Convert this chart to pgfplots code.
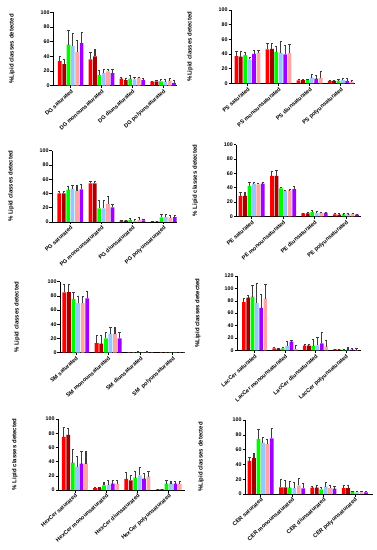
\documentclass[border=0pt]{standalone}
\usepackage{pgfplots}
\pgfplotsset{compat=1.18}
\usepackage{fontspec}
\setmainfont{Liberation Sans}
\definecolor{cR}{RGB}{255,0,0}
\definecolor{cD}{RGB}{165,0,0}
\definecolor{cG}{RGB}{0,250,0}
\definecolor{cL}{RGB}{150,200,255}
\definecolor{cP}{RGB}{255,165,165}
\definecolor{cU}{RGB}{160,0,255}
\definecolor{cE}{RGB}{60,60,60}
\pgfplotsset{
  pstyle/.style={scale only axis, anchor=south west, ybar, bar width=0.12, ymin=0,
    axis lines=left, axis line style={-, line width=0.6pt, black},
    xtick={0,1,2,3},
    x tick label style={rotate=42, anchor=north east, font=\bfseries\fontsize{5.6}{6}\selectfont, inner sep=0.5pt},
    y tick label style={font=\bfseries\fontsize{5.3}{6}\selectfont, inner sep=0.8pt},
    /pgf/number format/assume math mode=true,
    tick style={black, line width=0.5pt}, major tick length=2.5pt, tick align=outside,
    every axis y label/.style={rotate=90, anchor=center, font=\bfseries\fontsize{6}{7}\selectfont},
  },
  eb/.style={draw=none, error bars/y dir=plus, error bars/y explicit,
    error bars/error bar style={line width=1.1pt, cE},
    error bars/error mark options={rotate=90, mark size=1.1pt, line width=0.6pt, cE}},
  b1/.style={bar shift=-0.355, eb},
  b2/.style={bar shift=-0.213, eb},
  b3/.style={bar shift=-0.071, eb},
  b4/.style={bar shift=0.071, eb},
  b5/.style={bar shift=0.213, eb},
  b6/.style={bar shift=0.355, eb},
}
\begin{document}
\begin{tikzpicture}
\useasboundingbox (0,0) rectangle (377pt,550pt);
% ---------- DG ----------
\begin{axis}[pstyle, at={(53pt,464.3pt)}, width=124pt, height=73.4pt,
  xmin=-0.575, xmax=3.45, ymax=100, ytick={0,20,...,100},
  xticklabels={DG saturated, DG monounsaturated, DG diunsaturated, DG polyunsaturated},
  ylabel={\%Lipid classes detected}, ylabel style={at={(axis description cs:-0.331,0.5)}}]
\addplot[b1, fill=cR] coordinates {(0,33.6) +- (0,5.9) (1,36) +- (0,9) (2,9.5) +- (0,1.5) (3,5.5) +- (0,0.9)};
\addplot[b2, fill=cD] coordinates {(0,29.5) +- (0,6.5) (1,40) +- (0,10) (2,7.7) +- (0,2.8) (3,6) +- (0,1.7)};
\addplot[b3, fill=cG] coordinates {(0,56) +- (0,20) (1,14.5) +- (0,6) (2,9.5) +- (0,4.1) (3,6) +- (0,2.6)};
\addplot[b4, fill=cL] coordinates {(0,54) +- (0,18) (1,17) +- (0,5) (2,8.6) +- (0,3.4) (3,5.5) +- (0,3.1)};
\addplot[b5, fill=cP] coordinates {(0,46) +- (0,16) (1,19.5) +- (0,2.5) (2,10.5) +- (0,1.5) (3,6.8) +- (0,2.7)};
\addplot[b6, fill=cU] coordinates {(0,58) +- (0,15) (1,17) +- (0,5) (2,7.7) +- (0,1.8) (3,4) +- (0,2.8)};
\end{axis}
% ---------- PS ----------
\begin{axis}[pstyle, at={(231pt,466.7pt)}, width=123.7pt, height=73.3pt,
  xmin=-0.53, xmax=3.45, ymax=100, ytick={0,20,...,100},
  xticklabels={PS saturated, PS monounsaturated, PS diunsaturated, PS polyunsaturated},
  ylabel={\%Lipid classes detected}, ylabel style={at={(axis description cs:-0.331,0.5)}}]
\addplot[b1, fill=cR] coordinates {(0,37) +- (0,7) (1,46.4) +- (0,8.1) (2,4) +- (0,1.5) (3,3.2) +- (0,1.3)};
\addplot[b2, fill=cD] coordinates {(0,36.4) +- (0,6.6) (1,46.8) +- (0,7.7) (2,4.5) +- (0,1) (3,3.2) +- (0,1.3)};
\addplot[b3, fill=cG] coordinates {(0,38.6) +- (0,3.4) (1,43) +- (0,8) (2,4.5) +- (0,1) (3,3.6) +- (0,1.4)};
\addplot[b4, fill=cL] coordinates {(0,32.7) +- (0,2.3) (1,42) +- (0,15.7) (2,7.7) +- (0,5) (3,4.5) +- (0,2.8)};
\addplot[b5, fill=cU] coordinates {(0,40) +- (0,5.5) (1,39.5) +- (0,11.9) (2,6.4) +- (0,4.6) (3,3.2) +- (0,3.6)};
\addplot[b6, fill=cP] coordinates {(0,42) +- (0,3) (1,41.4) +- (0,12.2) (2,7.3) +- (0,9.5) (3,2.3) +- (0,1.7)};
\end{axis}
% ---------- PG ----------
\begin{axis}[pstyle, at={(52pt,328pt)}, width=125pt, height=71.3pt,
  xmin=-0.59, xmax=3.43, ymax=100, ytick={0,20,...,100},
  xticklabels={PG saturated, PG monounsaturated, PG diunsaturated, PG polyunsaturated},
  ylabel={\% Lipid classes detected}, ylabel style={at={(axis description cs:-0.328,0.5)}}]
\addplot[b1, fill=cR] coordinates {(0,40) +- (0,2.5) (1,54) +- (0,3) (2,2) +- (0,0.3) (3,0.5) +- (0,0.2)};
\addplot[b2, fill=cD] coordinates {(0,40) +- (0,2.5) (1,54) +- (0,2.5) (2,2) +- (0,0.3) (3,0.5) +- (0,0.2)};
\addplot[b3, fill=cG] coordinates {(0,45) +- (0,5.5) (1,19) +- (0,12) (2,2.8) +- (0,1.9) (3,6.5) +- (0,4.5)};
\addplot[b4, fill=cL] coordinates {(0,46.7) +- (0,5.3) (1,19) +- (0,12) (2,1.4) +- (0,2.8) (3,7) +- (0,4)};
\addplot[b5, fill=cP] coordinates {(0,44) +- (0,7) (1,25) +- (0,10.5) (2,2.8) +- (0,3.2) (3,6) +- (0,4)};
\addplot[b6, fill=cU] coordinates {(0,45.8) +- (0,7.5) (1,20.5) +- (0,4.5) (2,2.3) +- (0,1.4) (3,7) +- (0,3)};
\end{axis}
% ---------- PE ----------
\begin{axis}[pstyle, at={(236.3pt,333.7pt)}, width=125pt, height=71.6pt,
  xmin=-0.49, xmax=3.49, ymax=100, ytick={0,20,...,100},
  xticklabels={PE saturated, PE monounsaturated, PE diunsaturated, PE polyunsaturated},
  ylabel={\% Lipid classes detected}, ylabel style={at={(axis description cs:-0.328,0.5)}}]
\addplot[b1, fill=cR] coordinates {(0,28.4) +- (0,4.6) (1,56.3) +- (0,7) (2,4.2) +- (0,0.5) (3,2.8) +- (0,1.4)};
\addplot[b2, fill=cD] coordinates {(0,28.4) +- (0,4.6) (1,56.3) +- (0,7.9) (2,4.2) +- (0,0.8) (3,2.3) +- (0,1.4)};
\addplot[b3, fill=cG] coordinates {(0,42.3) +- (0,4.7) (1,39) +- (0,1.5) (2,6) +- (0,2.8) (3,2.8) +- (0,0.9)};
\addplot[b4, fill=cL] coordinates {(0,45.6) +- (0,2.4) (1,35.3) +- (0,1.4) (2,4.7) +- (0,1.8) (3,3.3) +- (0,0.4)};
\addplot[b5, fill=cP] coordinates {(0,44.7) +- (0,1.8) (1,36.3) +- (0,0.9) (2,4.7) +- (0,1.3) (3,3.3) +- (0,0.9)};
\addplot[b6, fill=cU] coordinates {(0,45.6) +- (0,1.4) (1,38.1) +- (0,3.3) (2,4.7) +- (0,1.3) (3,2.3) +- (0,1)};
\end{axis}
% ---------- SM ----------
\begin{axis}[pstyle, at={(60pt,197.3pt)}, width=125pt, height=71pt,
  xmin=-0.49, xmax=3.38, ymax=100, ytick={0,20,...,100},
  xticklabels={SM saturated, SM monounsaturated, SM diunsaturated, SM\ \ polyunsaturated},
  ylabel={\% Lipid classes detected}, ylabel style={at={(axis description cs:-0.344,0.5)}}]
\addplot[b1, fill=cR] coordinates {(0,85) +- (0,11) (1,13.6) +- (0,11.4) (2,0.3) +- (0,0.3) (3,0.2) +- (0,0.2)};
\addplot[b2, fill=cD] coordinates {(0,85.4) +- (0,10.6) (1,12.7) +- (0,11.7) (2,0.2) +- (0,0.5) (3,0.2) +- (0,0.2)};
\addplot[b3, fill=cG] coordinates {(0,75.6) +- (0,9.4) (1,20) +- (0,8.6) (2,0.5) +- (0,0.8) (3,0.3) +- (0,0.8)};
\addplot[b4, fill=cL] coordinates {(0,70) +- (0,10) (1,26.8) +- (0,8.9) (2,0.3) +- (0,0.5) (3,0.3) +- (0,0.3)};
\addplot[b5, fill=cP] coordinates {(0,70) +- (0,9) (1,26.8) +- (0,8.9) (2,0.5) +- (0,0.8) (3,0.2) +- (0,0.2)};
\addplot[b6, fill=cU] coordinates {(0,76.5) +- (0,9.5) (1,20) +- (0,8.2) (2,0.2) +- (0,0.3) (3,0.2) +- (0,0.2)};
\end{axis}
% ---------- LacCer ----------
\begin{axis}[pstyle, at={(237pt,199.7pt)}, width=124pt, height=74.3pt,
  xmin=-0.58, xmax=3.5, ymax=120, ytick={0,20,...,120},
  xticklabels={LacCer saturated, LacCer monounsaturated, LacCer diunsaturated, LacCer polyunsaturated},
  ylabel={\%Lipid classes detected}, ylabel style={at={(axis description cs:-0.315,0.5)}}]
\addplot[b1, fill=cR] coordinates {(0,78) +- (0,6.5) (1,3.2) +- (0,2.2) (2,7.5) +- (0,1.6) (3,1.6) +- (0,0.6)};
\addplot[b2, fill=cD] coordinates {(0,85) +- (0,4.3) (1,2.2) +- (0,1) (2,7.5) +- (0,2.7) (3,1) +- (0,0.6)};
\addplot[b3, fill=cG] coordinates {(0,86.7) +- (0,18.8) (1,3.2) +- (0,2.2) (2,7) +- (0,11.3) (3,0.5) +- (0,0.5)};
\addplot[b4, fill=cL] coordinates {(0,76.4) +- (0,32.6) (1,7) +- (0,8) (2,8) +- (0,13.5) (3,1) +- (0,3.3)};
\addplot[b5, fill=cU] coordinates {(0,68.4) +- (0,22) (1,14) +- (0,2.7) (2,11.3) +- (0,17.7) (3,1) +- (0,1.7)};
\addplot[b6, fill=cP] coordinates {(0,83.4) +- (0,23.2) (1,2.2) +- (0,6.4) (2,6) +- (0,10.7) (3,0.5) +- (0,3.3)};
\end{axis}
% ---------- HexCer ----------
\begin{axis}[pstyle, at={(58pt,60pt)}, width=127pt, height=71pt,
  xmin=-0.54, xmax=3.52, ymax=100, ytick={0,20,...,100},
  xticklabels={HexCer saturated, HexCer monounsaturated, HexCer diunsaturated, HexCer polyunsaturated},
  ylabel={\% Lipid classes detected}, ylabel style={at={(axis description cs:-0.339,0.5)}}]
\addplot[b1, fill=cR] coordinates {(0,75) +- (0,13) (1,2.8) +- (0,1) (2,15.5) +- (0,9.9) (3,1) +- (0,0.4)};
\addplot[b2, fill=cD] coordinates {(0,77.5) +- (0,9.3) (1,2.8) +- (0,1) (2,13.6) +- (0,7.4) (3,1) +- (0,0.4)};
\addplot[b3, fill=cG] coordinates {(0,38.5) +- (0,19.2) (1,6.6) +- (0,4.7) (2,17.4) +- (0,8.4) (3,8.9) +- (0,4.1)};
\addplot[b4, fill=cL] coordinates {(0,32.9) +- (0,14.1) (1,7.5) +- (0,5.5) (2,20.7) +- (0,11.3) (3,8.9) +- (0,3.8)};
\addplot[b5, fill=cU] coordinates {(0,37) +- (0,17) (1,8.9) +- (0,4.7) (2,16) +- (0,7) (3,8.9) +- (0,3.3)};
\addplot[b6, fill=cP] coordinates {(0,37) +- (0,18) (1,8.5) +- (0,4.5) (2,18.8) +- (0,7) (3,8.5) +- (0,3.7)};
\end{axis}
% ---------- CER ----------
\begin{axis}[pstyle, at={(245pt,56pt)}, width=128pt, height=74pt,
  xmin=-0.5, xmax=3.58, ymax=100, ytick={0,20,...,100},
  xticklabels={CER saturated, CER monounsaturated, CER diunsaturated, CER polyunsaturated},
  ylabel={\%Lipid classes detected}, ylabel style={at={(axis description cs:-0.344,0.5)}}]
\addplot[b1, fill=cR] coordinates {(0,44.8) +- (0,5) (1,9) +- (0,11) (2,8.5) +- (0,2.3) (3,8) +- (0,3.7)};
\addplot[b2, fill=cD] coordinates {(0,48.4) +- (0,6.6) (1,9) +- (0,9.4) (2,8.5) +- (0,2.7) (3,8) +- (0,3.7)};
\addplot[b3, fill=cG] coordinates {(0,74) +- (0,13.4) (1,8.5) +- (0,8.5) (2,6.3) +- (0,3.1) (3,3.1) +- (0,0.9)};
\addplot[b4, fill=cL] coordinates {(0,69.5) +- (0,7.2) (1,8) +- (0,7.7) (2,9.9) +- (0,5.3) (3,2.2) +- (0,1.8)};
\addplot[b5, fill=cP] coordinates {(0,67.3) +- (0,7.1) (1,11.7) +- (0,9.3) (2,8) +- (0,3.2) (3,2.2) +- (0,1.8)};
\addplot[b6, fill=cU] coordinates {(0,75) +- (0,13.8) (1,7.6) +- (0,7.2) (2,7.2) +- (0,3.6) (3,2.2) +- (0,1.8)};
\end{axis}
\end{tikzpicture}
\end{document}
